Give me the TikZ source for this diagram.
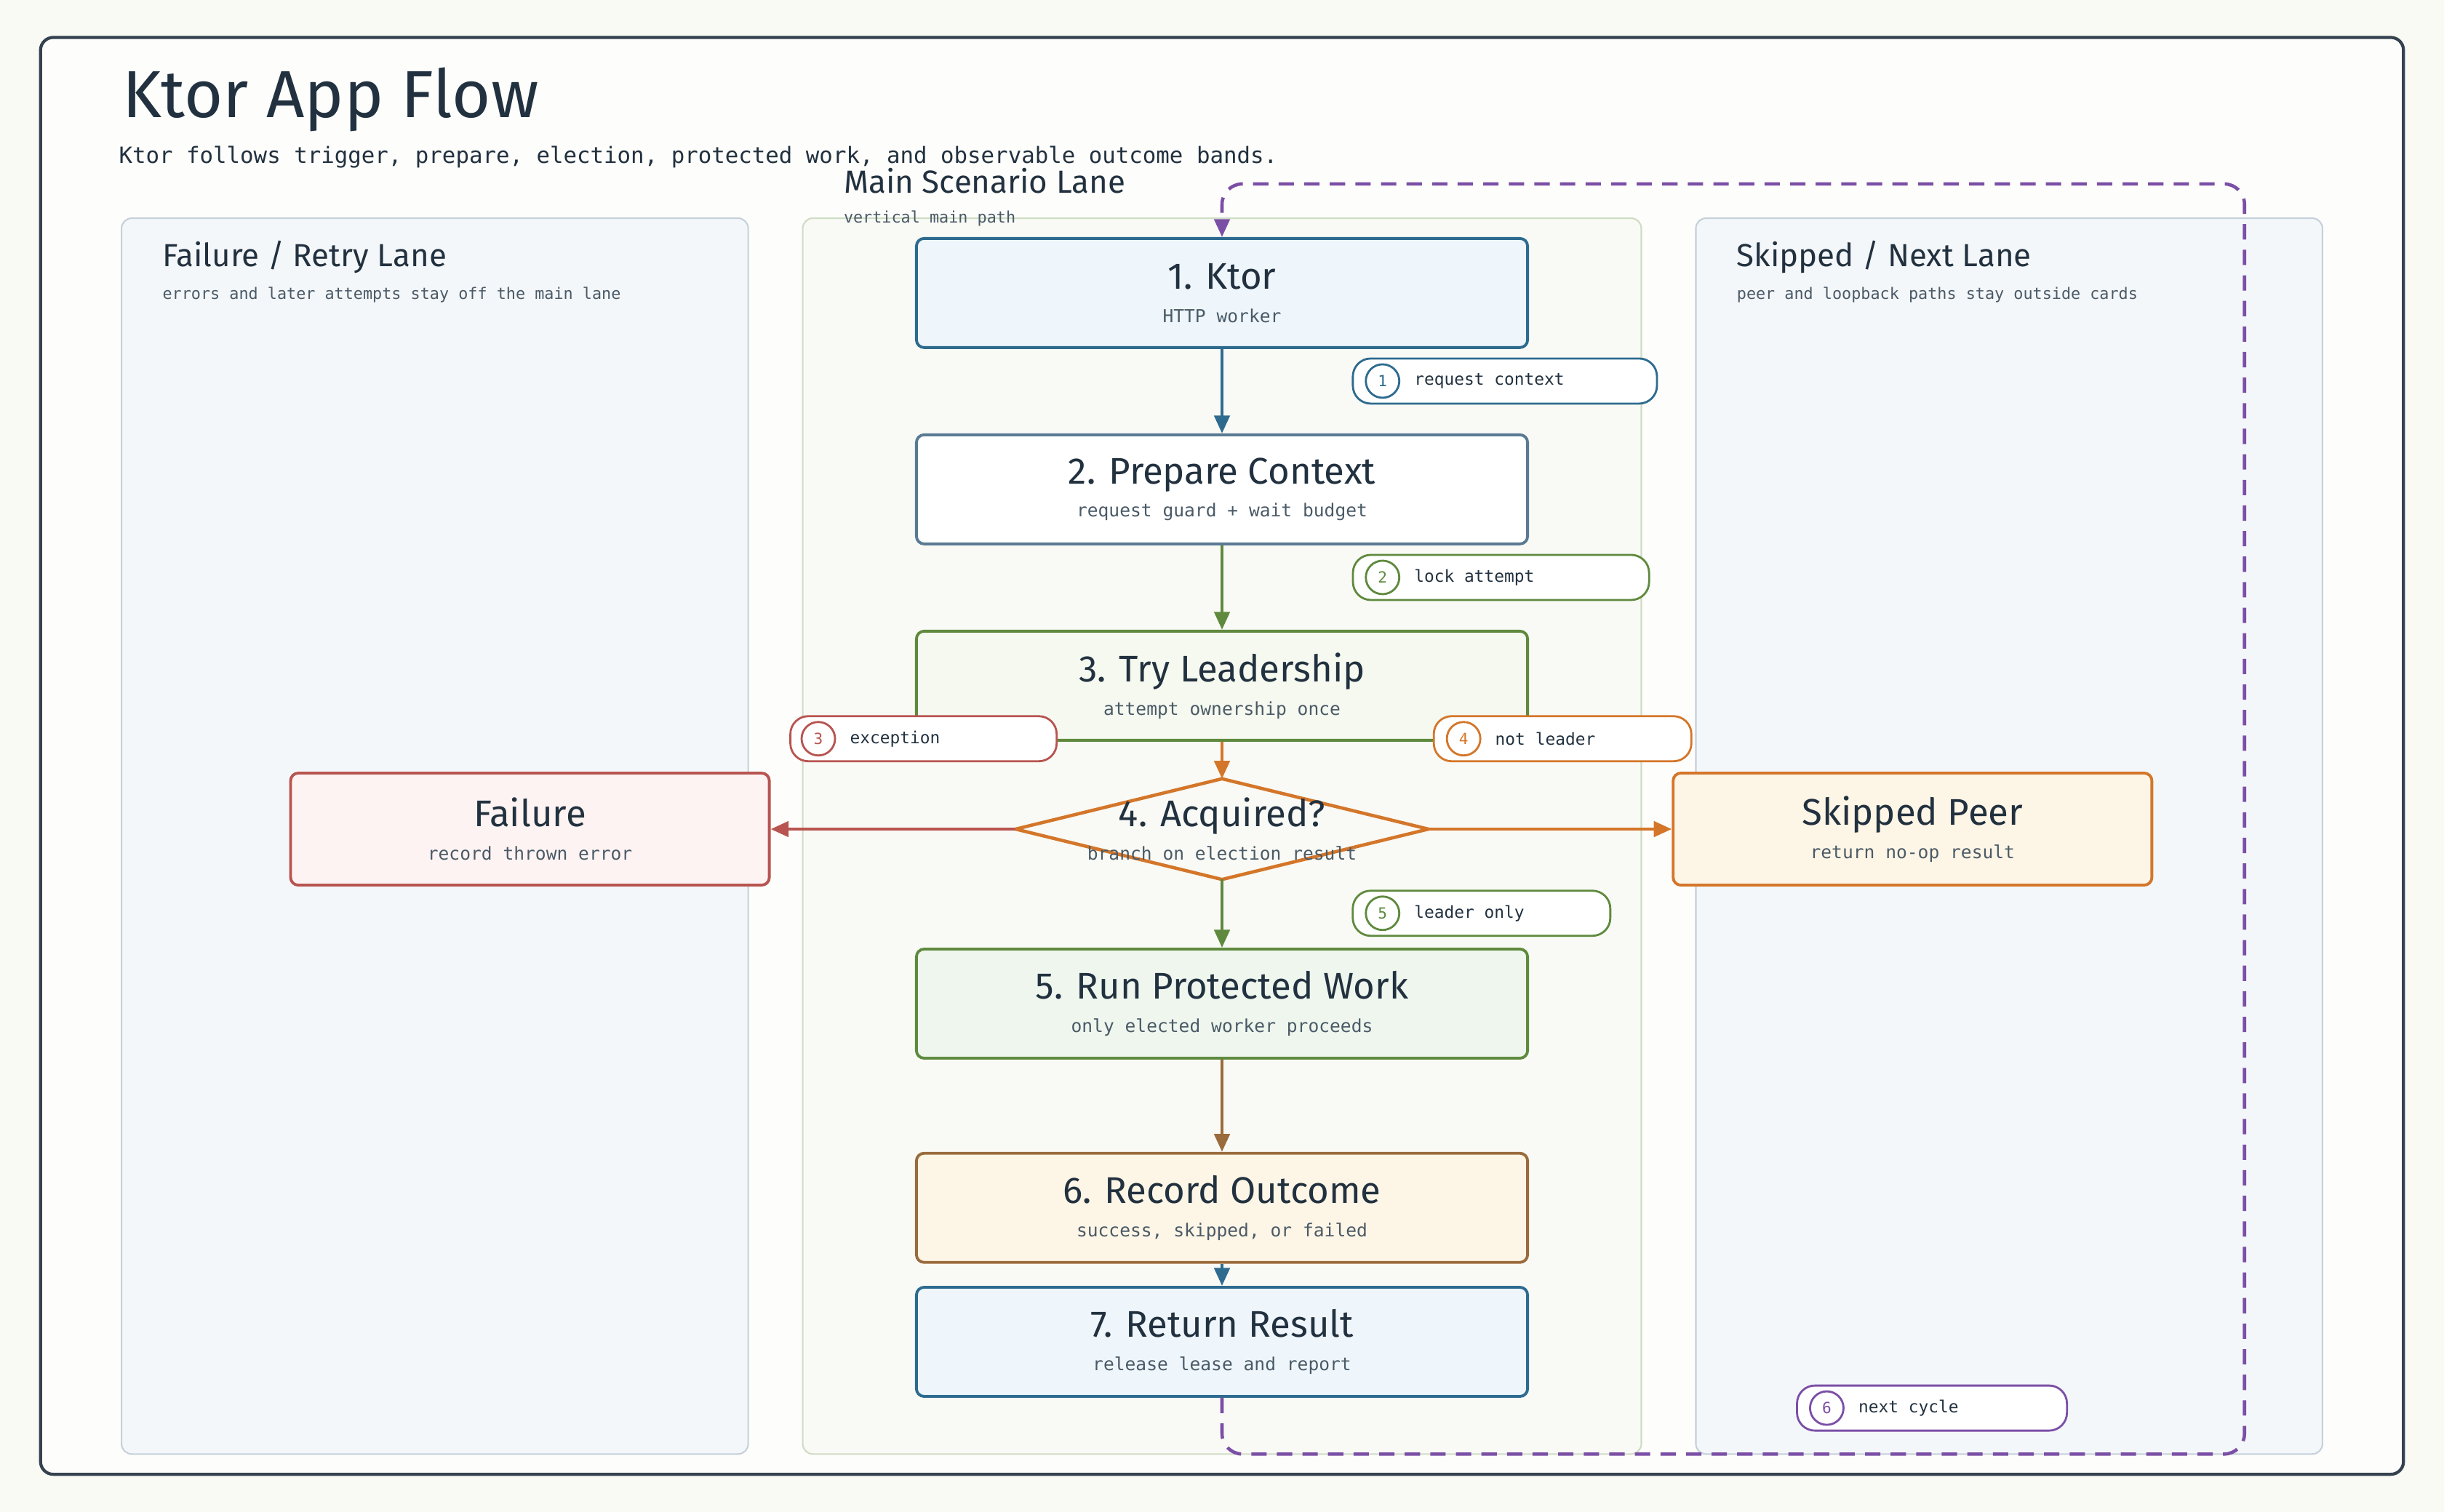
\documentclass[tikz,border=0pt]{standalone}
\usepackage{fontspec}
\setmainfont{Fira Sans}
\newfontfamily\monof{DejaVu Sans Mono}
\usetikzlibrary{positioning,arrows.meta}
\definecolor{bgcream}{HTML}{FAFAF5}
\definecolor{frameink}{HTML}{34424F}
\definecolor{inkdark}{HTML}{22313F}
\definecolor{inksub}{HTML}{4A5A66}
\definecolor{c_blue}{HTML}{2E6B8F}
\definecolor{c_slate}{HTML}{5A7A94}
\definecolor{c_green}{HTML}{5F8A3E}
\definecolor{c_brown}{HTML}{9A6B3C}
\definecolor{c_red}{HTML}{B85450}
\definecolor{c_orange}{HTML}{D4762A}
\definecolor{c_purple}{HTML}{7B4FA6}
\definecolor{f_blue}{HTML}{EEF6FC}
\definecolor{f_green}{HTML}{EEF6EE}
\definecolor{f_lgreen}{HTML}{F6F9F0}
\definecolor{f_cream}{HTML}{FDF5E6}
\definecolor{f_red}{HTML}{FDF3F2}
\definecolor{f_lane}{HTML}{F4F7FA}
\definecolor{f_mlane}{HTML}{F9FAF5}
\begin{document}
\begin{tikzpicture}[x=0.02143cm, y=-0.02143cm, >={Triangle[length=7pt,width=6pt]}]
            % Styles
            \tikzstyle{lane} = [draw=#1, fill=f_lane, rounded corners=4pt, line width=0.6pt]
            \tikzstyle{card} = [rectangle, rounded corners=3pt, line width=1.1pt, minimum width=8.4cm, minimum height=1.5cm, align=center, text=inkdark]
            \tikzstyle{side} = [card, minimum width=6.58cm, minimum height=1.54cm]
            \tikzstyle{pill} = [rectangle, rounded corners=7pt, draw=#1, fill=white, line width=0.8pt, minimum height=0.62cm, inner sep=0pt]
            \tikzstyle{num} = [circle, draw=#1, text=#1, fill=white, line width=0.8pt, minimum size=0.46cm, inner sep=0pt, font=\monof\fontsize{6}{7}\selectfont]
            \tikzstyle{pilltxt} = [anchor=west, font=\monof\fontsize{6.5}{8}\selectfont, text=inkdark, inner sep=0pt]
            \tikzstyle{lanetitle} = [anchor=west, inner sep=0pt, text=inkdark, font=\fontsize{12.5}{14}\selectfont]
            \tikzstyle{lanesub} = [anchor=west, inner sep=0pt, text=inksub, font=\monof\fontsize{6.2}{8}\selectfont]
            \tikzstyle{flow} = [->, line width=1.3pt]
            \newcommand{\ttl}[1]{{\fontsize{14.5}{16}\selectfont #1}}
            \newcommand{\sub}[1]{{\monof\fontsize{7}{9}\selectfont\color{inksub} #1}}

            % Background and frame
            \fill[bgcream] (0,0) rectangle (1568,970);
            \draw[frameink, line width=1.2pt, rounded corners=5pt, fill=white!60!bgcream] (26,24) rectangle (1542,946);
            \node[anchor=west, text=inkdark, font=\fontsize{26}{30}\selectfont] (title) at (73,64) {Ktor App Flow};
            \node[anchor=west, text=inkdark, font=\monof\fontsize{8.75}{11}\selectfont, inner sep=0pt] (subtitle) at (76,101) {Ktor follows trigger, prepare, election, protected work, and observable outcome bands.};

            % Lanes
            \draw[lane=c_slate!35] (78,140) rectangle (480,933);
            \draw[lane=c_green!30, fill=f_mlane] (515,140) rectangle (1053,933);
            \draw[lane=c_slate!35] (1088,140) rectangle (1490,933);
            \node[lanetitle] (failtitle) at (104,165) {Failure / Retry Lane};
            \node[lanesub] (failsub) at (104,189) {errors and later attempts stay off the main lane};
            \node[lanetitle] (maintitle) at (541,116) {Main Scenario Lane};
            \node[lanesub] (mainsub) at (541,140) {vertical main path};
            \node[lanetitle] (skiptitle) at (1114,165) {Skipped / Next Lane};
            \node[lanesub] (skipsub) at (1114,189) {peer and loopback paths stay outside cards};

            % Nodes: main path
            \node[card, draw=c_blue, fill=f_blue] (S1) at (784,188) {\ttl{1. Ktor}\\[1pt]\sub{HTTP worker}};
            \node[card, draw=c_slate, fill=white] (S2) at (784,314) {\ttl{2. Prepare Context}\\[1pt]\sub{request guard + wait budget}};
            \node[card, draw=c_green, fill=f_lgreen] (S3) at (784,440) {\ttl{3. Try Leadership}\\[1pt]\sub{attempt ownership once}};
            \node[minimum width=5.66cm, minimum height=1.37cm, inner sep=0pt] (D4) at (784,532) {};
            \draw[c_orange, line width=1.3pt, fill=f_mlane] (D4.north) -- (D4.east) -- (D4.south) -- (D4.west) -- cycle;
            \node[align=center, text=inkdark] at (D4) {\ttl{4. Acquired?}\\[1pt]\sub{branch on election result}};
            \node[card, draw=c_green, fill=f_green] (S5) at (784,644) {\ttl{5. Run Protected Work}\\[1pt]\sub{only elected worker proceeds}};
            \node[card, draw=c_brown, fill=f_cream] (S6) at (784,775) {\ttl{6. Record Outcome}\\[1pt]\sub{success, skipped, or failed}};
            \node[card, draw=c_blue, fill=f_blue] (S7) at (784,861) {\ttl{7. Return Result}\\[1pt]\sub{release lease and report}};

            % Nodes: side branches
            \node[side, draw=c_red, fill=f_red] (F) at (340,532) {\ttl{Failure}\\[1pt]\sub{record thrown error}};
            \node[side, draw=c_orange, fill=f_cream] (K) at (1227,532) {\ttl{Skipped Peer}\\[1pt]\sub{return no-op result}};

            % Edges
            \draw[flow, c_blue] (S1) -- (S2);
            \draw[flow, c_green] (S2) -- (S3);
            \draw[flow, c_orange] (S3) -- (D4.north);
            \draw[flow, c_red] (D4.west) -- (F);
            \draw[flow, c_orange] (D4.east) -- (K);
            \draw[flow, c_green] (D4.south) -- (S5);
            \draw[flow, c_brown] (S5) -- (S6);
            \draw[flow, c_blue] (S6) -- (S7);
            \draw[flow, c_purple, dashed, dash pattern=on 6pt off 4pt, rounded corners=8pt] (S7.south) -- (784,933) -- (1440,933) -- (1440,118) -- (784,118) -- (S1.north);

            % Edge labels
            \node[pill=c_blue, minimum width=4.18cm] (L1) at (965.5,244.5) {};
            \node[num=c_blue] (n1) at (887,244.5) {1};
            \node[pilltxt] at (907,244.5) {request context};
            \node[pill=c_green, minimum width=4.07cm] (L2) at (963,370.5) {};
            \node[num=c_green] (n2) at (887,370.5) {2};
            \node[pilltxt] at (907,370.5) {lock attempt};
            \node[pill=c_red, minimum width=3.66cm] (L3) at (592.5,474) {};
            \node[num=c_red] (n3) at (525,474) {3};
            \node[pilltxt] at (545,474) {exception};
            \node[pill=c_orange, minimum width=3.54cm] (L4) at (1002.5,474) {};
            \node[num=c_orange] (n4) at (939,474) {4};
            \node[pilltxt] at (959,474) {not leader};
            \node[pill=c_green, minimum width=3.54cm] (L5) at (950.5,586) {};
            \node[num=c_green] (n5) at (887,586) {5};
            \node[pilltxt] at (907,586) {leader only};
            \node[pill=c_purple, minimum width=3.71cm] (L6) at (1239.5,903.5) {};
            \node[num=c_purple] (n6) at (1172,903.5) {6};
            \node[pilltxt] at (1192,903.5) {next cycle};
        \end{tikzpicture}
\end{document}
